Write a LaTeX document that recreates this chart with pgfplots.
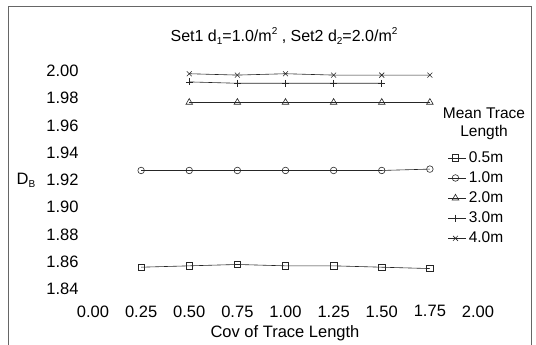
\documentclass[border=0pt]{standalone}
\usepackage{pgfplots}
\pgfplotsset{compat=1.18}
\usepackage{fontspec}
\setmainfont{Liberation Sans}
\newcommand{\tsub}[1]{\raisebox{-0.35ex}{\fontsize{10}{10}\selectfont #1}}
\newcommand{\tsup}[1]{\raisebox{0.75ex}{\fontsize{10}{10}\selectfont #1}}
\begin{document}
\begin{tikzpicture}[x=1pt,y=1pt]
\useasboundingbox (0,0) rectangle (536,-345);
\draw[black!60, line width=0.8pt] (8,-345) -- (8,-6) -- (531,-6) -- (531,-345);
\begin{axis}[
  at={(93pt,-289pt)}, anchor=south west,
  scale only axis, width=385pt, height=218pt,
  xmin=0, xmax=2, ymin=1.84, ymax=2.00,
  axis line style={draw=none},
  tick style={draw=none},
  xtick={0,0.25,0.5,0.75,1,1.25,1.5,1.75,2},
  ytick={1.84,1.86,...,2.001},
  xticklabels={0.00,0.25,0.50,0.75,1.00,1.25,1.50,1.75,2.00},
  yticklabels={1.84,1.86,1.88,1.90,1.92,1.94,1.96,1.98,2.00},
  /pgf/number format/assume math mode=true,
  ticklabel style={font=\fontsize{16.5}{18}\selectfont},
  xticklabel style={yshift=-13pt, anchor=north},
  yticklabel style={xshift=-11pt},
  clip=false,
  every axis plot/.append style={black!85, line width=0.6pt, mark options={solid, fill=white, line width=0.6pt}},
  legend style={draw=none, fill=none, at={(0.922,0.64)}, anchor=north west,
    font=\fontsize{15.5}{16}\selectfont, row sep=3.8pt, inner sep=0pt},
  legend cell align=left,
  legend image code/.code={\path (0pt,0pt) -- (18pt,0pt); \draw[#1] (0pt,0pt) -- (14pt,0pt); \draw[#1, only marks] plot coordinates {(7pt,0pt)};},
]
\addplot[mark=square, mark size=3.2pt] coordinates {(0.25,1.856)(0.5,1.857)(0.75,1.858)(1.0,1.857)(1.25,1.857)(1.5,1.856)(1.75,1.855)};
\addlegendentry{0.5m}
\addplot[mark=o, mark size=3.3pt] coordinates {(0.25,1.927)(0.5,1.927)(0.75,1.927)(1.0,1.927)(1.25,1.927)(1.5,1.927)(1.75,1.928)};
\addlegendentry{1.0m}
\addplot[mark=triangle, mark size=3.8pt] coordinates {(0.5,1.977)(0.75,1.977)(1.0,1.977)(1.25,1.977)(1.5,1.977)(1.75,1.977)};
\addlegendentry{2.0m}
\addplot[mark=+, mark size=3.5pt] coordinates {(0.5,1.992)(0.75,1.991)(1.0,1.991)(1.25,1.991)(1.5,1.991)};
\addlegendentry{3.0m}
\addplot[mark=x, mark size=3.5pt] coordinates {(0.5,1.998)(0.75,1.997)(1.0,1.998)(1.25,1.997)(1.5,1.997)(1.75,1.997)};
\addlegendentry{4.0m}
\end{axis}
\node[font=\fontsize{15.5}{17}\selectfont, align=center, inner sep=0pt] at (484,-124) {Mean Trace\\[1.5pt]Length};
\node[font=\fontsize{16}{18}\selectfont] at (284,-36) {Set1 d\tsub{1}=1.0/m\tsup{2} , Set2 d\tsub{2}=2.0/m\tsup{2}};
\node[font=\fontsize{16.5}{18}\selectfont] at (285,-333) {Cov of Trace Length};
\node[font=\fontsize{16.5}{18}\selectfont] at (26,-180) {D\tsub{B}};
\end{tikzpicture}
\end{document}
